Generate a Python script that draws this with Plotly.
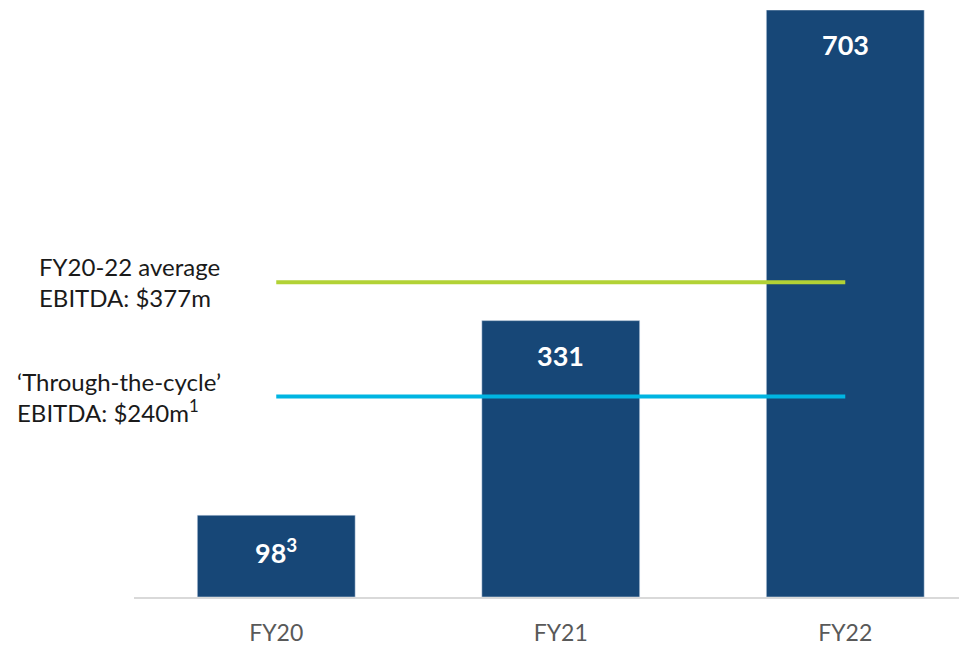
import plotly.graph_objects as go

# données (EBITDA, $m)
years = ["FY20", "FY21", "FY22"]
ebitda = [98, 331, 703]
bar_labels = ["98<sup>3</sup>", "331", "703"]

avg_value = 377
avg_label = "FY20-22 average<br>EBITDA: $377m"
cycle_value = 240
cycle_label = "‘Through-the-cycle’<br>EBITDA: $240m<sup>1</sup>"

BAR_COLOR = "#174777"
GREEN = "#B2D235"
CYAN = "#00B5E2"
FONT = "Lato"

fig = go.Figure()

fig.add_trace(go.Bar(
    x=years,
    y=ebitda,
    width=0.555,
    marker_color=BAR_COLOR,
    hoverinfo="skip",
))

fig.add_trace(go.Scatter(
    x=[years[0], years[-1]],
    y=[avg_value, avg_value],
    mode="lines",
    line=dict(color=GREEN, width=4),
    hoverinfo="skip",
))
fig.add_trace(go.Scatter(
    x=[years[0], years[-1]],
    y=[cycle_value, cycle_value],
    mode="lines",
    line=dict(color=CYAN, width=4),
    hoverinfo="skip",
))

# étiquettes blanches dans le haut des barres
for year, val, lab in zip(years, ebitda, bar_labels):
    fig.add_annotation(
        x=year, y=val, text=f"<b>{lab}</b>", showarrow=False,
        yanchor="top", yshift=-16,
        font=dict(family=FONT, size=27, color="white"),
    )

fig.add_annotation(
    xref="paper", x=-0.1153, y=avg_value, text=avg_label, showarrow=False,
    xanchor="left", yanchor="middle", align="left", yshift=0,
    font=dict(family=FONT, size=24, color="#1a1a1a"),
)
fig.add_annotation(
    xref="paper", x=-0.1415, y=cycle_value, text=cycle_label, showarrow=False,
    xanchor="left", yanchor="middle", align="left", yshift=0,
    font=dict(family=FONT, size=24, color="#1a1a1a"),
)

# la page décale la figure de 8 px (marge du body) : marges compensées
fig.update_layout(
    width=967,
    height=645,
    margin=dict(l=126, r=0, t=2, b=56),
    paper_bgcolor="white",
    plot_bgcolor="white",
    showlegend=False,
    xaxis=dict(
        type="category",
        range=[-0.5, 2.456],
        showline=True, linecolor="#D9D9D9", linewidth=2,
        showgrid=False, zeroline=False,
        ticks="outside", ticklen=14, tickcolor="rgba(0,0,0,0)",
        tickfont=dict(family=FONT, size=23, color="#595959"),
    ),
    yaxis=dict(
        range=[0, 703],
        visible=False,
        showgrid=False, zeroline=False,
    ),
)

fig.write_html("out.html")
